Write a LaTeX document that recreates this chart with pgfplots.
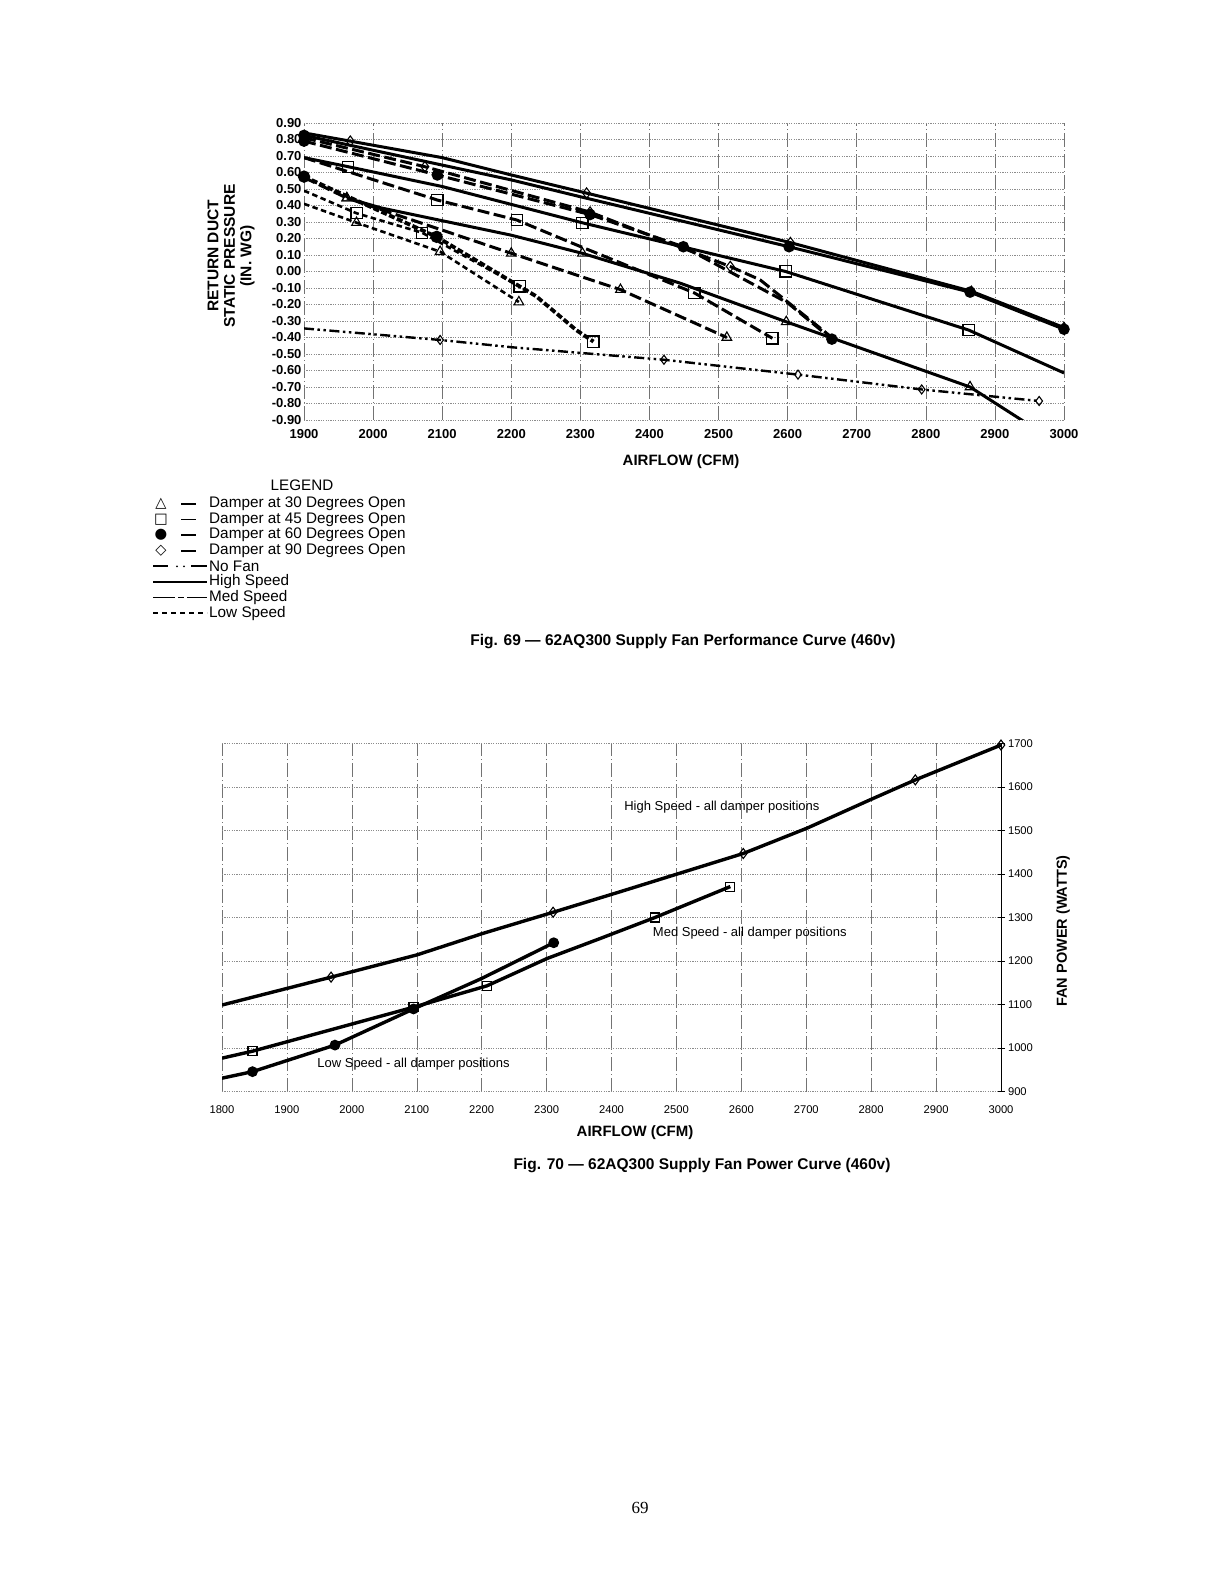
\documentclass[border=0pt]{standalone}
\usepackage{fontspec}
\setmainfont{Liberation Sans}
\newfontfamily\serif{Liberation Serif}
\newfontfamily\sym{DejaVu Sans}
\usepackage{pgfplots}
\pgfplotsset{compat=1.18}
\newcommand\fs[2]{\fontsize{#1}{#2}\selectfont}

\pgfplotsset{
  hi/.style={black, line width=3pt, solid},
  me/.style={black, line width=3pt, dash pattern=on 12pt off 4.5pt},
  lo/.style={black, line width=2.6pt, dash pattern=on 5.5pt off 3.5pt},
  nf/.style={black, line width=2.4pt, dash pattern=on 10pt off 3.5pt on 2.5pt off 3.5pt on 2.5pt off 3.5pt},
  m30/.style={mark=triangle, mark size=5.6pt, mark options={solid, fill=white, line width=1.1pt}},
  m45/.style={mark=square, mark size=5.6pt, mark options={solid, fill=white, line width=1.2pt}},
  m60/.style={mark=*, mark size=4.2pt, mark options={solid, fill=black}},
  m90/.style={mark=diamond, mark size=5.2pt, mark options={solid, fill=white, line width=1.1pt}},
  grd/.style={
    grid=major,
    x grid style={black!55, line width=0.5pt, dash pattern=on 14pt off 3pt on 1pt off 3pt},
    y grid style={black!45, line width=0.45pt, dash pattern=on 1.2pt off 1.2pt},
  },
}

\begin{document}
\begin{tikzpicture}[x=1pt,y=1pt]
\fill[white] (0,0) rectangle (1220,1584);
\path[use as bounding box] (0,0) rectangle (1220,1584);

% ---------- Fig. 69 ----------
\begin{axis}[
  at={(304pt,1164pt)}, anchor=south west, scale only axis,
  width=760pt, height=297pt,
  xmin=1900, xmax=3000, ymin=-0.9, ymax=0.9,
  xtick={1900,2000,2100,2200,2300,2400,2500,2600,2700,2800,2900,3000},
  xticklabels={1900,2000,2100,2200,2300,2400,2500,2600,2700,2800,2900,3000},
  ytick={-0.9,-0.8,-0.7,-0.6,-0.5,-0.4,-0.3,-0.2,-0.1,0,0.1,0.2,0.3,0.4,0.5,0.6,0.7,0.8,0.9},
  yticklabels={-0.90,-0.80,-0.70,-0.60,-0.50,-0.40,-0.30,-0.20,-0.10,0.00,0.10,0.20,0.30,0.40,0.50,0.60,0.70,0.80,0.90},
  axis line style={draw=none}, major tick length=0pt,
  grd,
  tick label style={font=\bfseries\fs{13}{14}},
  yticklabel style={xshift=1pt},
  xticklabel style={yshift=-6pt},
]
% high speed
\addplot[hi, m90, mark indices={2,5,6,7,8}] coordinates {(1900,0.84) (1967,0.79) (2100,0.69) (2200,0.585) (2309,0.475) (2604,0.175) (2866,-0.12) (3000,-0.34)};
\addplot[hi, m60, mark indices={1,4,5,6}] coordinates {(1900,0.825) (2200,0.555) (2303,0.45) (2602,0.15) (2864,-0.125) (3000,-0.35)};
\addplot[hi, m45, mark indices={2,4,5,6}] coordinates {(1900,0.69) (1964,0.635) (2100,0.515) (2303,0.295) (2597,0.0) (2862,-0.355) (3000,-0.615)};
\addplot[hi, m30, mark indices={1,4,6,7}] coordinates {(1962,0.445) (2012,0.385) (2200,0.22) (2303,0.11) (2444,-0.07) (2598,-0.305) (2864,-0.70) (2946,-0.92)};
% med speed
\addplot[me, m90, mark indices={2,3,4}] coordinates {(1900,0.81) (2075,0.635) (2314,0.36) (2517,0.03) (2560,-0.05) (2664,-0.40)};
\addplot[me, m60, mark indices={1,2,3,4,6}] coordinates {(1900,0.79) (2093,0.585) (2314,0.345) (2449,0.15) (2600,-0.19) (2664,-0.41)};
\addplot[me, m45, mark indices={2,3,5,6}] coordinates {(1900,0.69) (2093,0.433) (2208,0.312) (2295,0.16) (2465,-0.13) (2578,-0.405)};
\addplot[me, m30, mark indices={2,3,4,5}] coordinates {(1900,0.57) (1962,0.445) (2200,0.11) (2358,-0.11) (2512,-0.40)};
% low speed
\addplot[black, line width=3.8pt, dash pattern=on 6pt off 2.5pt, m60, mark indices={1,2}] coordinates {(1900,0.575) (2092,0.21) (2236,-0.15) (2294,-0.355) (2319,-0.425)};
\addplot[only marks, m45] coordinates {(2319,-0.425)};
\addplot[lo, m45, mark indices={2,3,4}] coordinates {(1900,0.49) (1976,0.353) (2071,0.235) (2212,-0.09)};
\addplot[lo, m30, mark indices={2,3,4}] coordinates {(1900,0.41) (1976,0.296) (2097,0.12) (2211,-0.185)};
% no fan
\addplot[nf, m90, mark size=4.5pt, mark indices={2,4,5,6,7}] coordinates {(1900,-0.345) (2097,-0.415) (2203,-0.46) (2421,-0.535) (2615,-0.625) (2794,-0.715) (2964,-0.785)};
\end{axis}

\node[rotate=90, align=center, font=\bfseries\fs{15.5}{16.5}] at (231,1328) {RETURN DUCT\\STATIC PRESSURE\\(IN. WG)};
\node[font=\bfseries\fs{15}{16}] at (681,1122) {AIRFLOW (CFM)};

% legend
\node[font=\fs{15.2}{16}] at (302,1099) {LEGEND};
\foreach \s/\t [count=\i from 0] in {△/30,□/45,●/60,◇/90}{
  \pgfmathsetmacro\yy{1080-15.6*\i}
  \node[font=\sym\fs{14.5}{15}] at (161,\yy) {\s};
  \draw[line width=1.5pt] (181,\yy) -- (196,\yy);
  \node[anchor=west, inner sep=0pt, font=\fs{15.3}{16}] at (209,\yy) {Damper at \t\ Degrees Open};
}
\draw[line width=2pt] (153,1017.6) -- (168,1017.6) (191,1017.6) -- (207,1017.6);
\fill (177,1017.6) circle (1.1pt) (184,1017.6) circle (1.1pt);
\node[anchor=west, inner sep=0pt, font=\fs{15.3}{16}] at (209,1017.6) {No Fan};
\draw[line width=1.7pt] (153,1002) -- (207,1002);
\node[anchor=west, inner sep=0pt, font=\fs{15.3}{16}] at (209,1002) {High Speed};
\draw[line width=1.7pt, dash pattern=on 22pt off 3pt on 6pt off 3pt on 22pt off 0pt] (153,986.4) -- (207,986.4);
\node[anchor=west, inner sep=0pt, font=\fs{15.3}{16}] at (209,986.4) {Med Speed};
\draw[line width=1.5pt, dash pattern=on 5pt off 4pt] (153,970.8) -- (207,970.8);
\node[anchor=west, inner sep=0pt, font=\fs{15.3}{16}] at (209,970.8) {Low Speed};

\node[font=\bfseries\fs{15.5}{17}] at (683,942) {Fig. 69 — 62AQ300 Supply Fan Performance Curve (460v)};

% ---------- Fig. 70 ----------
\begin{axis}[
  at={(222pt,492.3pt)}, anchor=south west, scale only axis,
  width=779pt, height=348.4pt,
  xmin=1800, xmax=3000, ymin=900, ymax=1700,
  xtick={1800,1900,2000,2100,2200,2300,2400,2500,2600,2700,2800,2900,3000},
  xticklabels={1800,1900,2000,2100,2200,2300,2400,2500,2600,2700,2800,2900,3000},
  ytick={900,1000,1100,1200,1300,1400,1500,1600,1700},
  yticklabels={900,1000,1100,1200,1300,1400,1500,1600,1700},
  axis x line*=bottom, axis y line*=right,
  x axis line style={draw=none},
  y axis line style={black, line width=0.7pt, -},
  xtick style={draw=none},
  ytick style={black, line width=0.6pt},
  major tick length=7pt, tick align=center,
  grd,
  tick label style={font=\fs{11.2}{12}},
  xticklabel style={yshift=-7pt},
]
\addplot[black, line width=3.4pt, mark=diamond, mark size=5pt, mark options={fill=white, line width=1.1pt}, mark indices={2,5,7,10,11}] coordinates {(1800,1099) (1968,1163) (2100,1214) (2203,1264) (2310,1312) (2413,1359) (2603,1447) (2701,1505) (2798,1570) (2868,1616) (3000,1696)};
\addplot[black, line width=3.4pt, mark=square, mark size=4.5pt, mark options={fill=white, line width=1.1pt}, mark indices={2,3,4,7,8}] coordinates {(1800,977) (1847,993) (2095,1094) (2208,1143) (2301,1206) (2383,1252) (2467,1300) (2583,1371)};
\addplot[black, line width=3.4pt, mark=*, mark size=3.6pt, mark indices={2,3,4,6}] coordinates {(1800,931) (1847,946) (1974,1007) (2095,1090) (2200,1160) (2311,1242)};
\node[font=\fs{13}{14}] at (axis cs:2570,1554) {High Speed - all damper positions};
\node[font=\fs{13}{14}] at (axis cs:2613,1264) {Med Speed - all damper positions};
\node[font=\fs{13}{14}] at (axis cs:2095,963) {Low Speed - all damper positions};
\end{axis}

\node[rotate=90, font=\bfseries\fs{14.5}{16}] at (1063,653) {FAN POWER (WATTS)};
\node[font=\bfseries\fs{15}{16}] at (635,451) {AIRFLOW (CFM)};
\node[font=\bfseries\fs{15.5}{17}] at (702,418) {Fig. 70 — 62AQ300 Supply Fan Power Curve (460v)};

\node[font=\serif\fs{17}{18}] at (640,76) {69};
\end{tikzpicture}
\end{document}
